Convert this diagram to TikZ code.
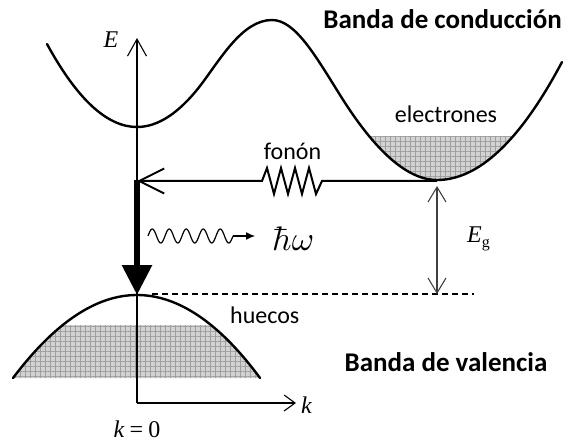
\documentclass[tikz,border=0pt]{standalone}
\usepackage{fontspec}
\newfontfamily\carl{Carlito}
\newfontfamily\tms{Liberation Serif}
\usetikzlibrary{arrows.meta,patterns.meta}
\tikzset{
  x=1pt,y=-1pt,
  band/.style={line width=2.4pt,line cap=round},
  axis/.style={line width=1.1pt},
  lbl/.style={font=\carl\fontsize{24}{24}\selectfont,inner sep=0pt},
  blbl/.style={font=\carl\bfseries\fontsize{27}{27}\selectfont,inner sep=0pt},
  mth/.style={font=\tms\fontsize{24}{24}\selectfont,inner sep=0pt},
  shade/.style={fill=gray!35},
  grid1/.style={pattern={Lines[angle=90,distance=5pt,line width=0.6pt]},pattern color=gray!75},
  grid2/.style={pattern={Lines[angle=0,distance=5pt,line width=0.6pt]},pattern color=gray!75},
}
\newcommand{\scmath}[2]{\scalebox{#1}{$#2$}}
\begin{document}
\begin{tikzpicture}
\useasboundingbox (0,0) rectangle (568,441);
% coordinates
\coordinate (cmin) at (137,127);
\coordinate (vmax) at (137,295);
\coordinate (rmin) at (437,181);
\coordinate (ph) at (137,181);
\coordinate (Eorig) at (137,403);
\coordinate (Etop) at (137,38);
\coordinate (kend) at (296,403);
% electron shading
\begin{scope}
\clip (300,137) rectangle (570,200);
\foreach \st in {shade,grid1,grid2}{
\path[\st] (340,95) .. controls (365,135) and (400,180) .. (437,180) .. controls (478.7,180) and (520.3,140.7) .. (562,62) -- cycle;}
\end{scope}
% hole shading
\begin{scope}
\clip (0,325) rectangle (300,380);
\foreach \st in {shade,grid1,grid2}{
\path[\st] (13,378) .. controls (54.3,323.3) and (95.7,295) .. (137,295) .. controls (178.3,295) and (219.7,323.3) .. (260,378) -- cycle;}
\end{scope}
% conduction band
\draw[band] (47,44) .. controls (77,99) and (107,127) .. (137,127)
  .. controls (158,127) and (179,113) .. (200,86)
  .. controls (220,60) and (242,20) .. (272,20)
  .. controls (295,20) and (315,55) .. (340,95)
  .. controls (365,135) and (400,180) .. (437,180)
  .. controls (478.7,180) and (520.3,140.7) .. (562,62);
% valence band
\draw[band] (13,378) .. controls (54.3,323.3) and (95.7,295) .. (137,295) .. controls (178.3,295) and (219.7,323.3) .. (260,378);
% axes
\draw[axis,-{Straight Barb[length=17pt,width=19pt,line width=1.1pt]}] (Eorig) -- (Etop);
\draw[axis,-{Straight Barb[length=11pt,width=16pt,line width=1.1pt]}] (Eorig) -- (kend);
\node[mth,anchor=base] (E) at (111,48) {\textit{E}};
\node[mth,anchor=base west] (k) at (301,413) {\textit{k}};
\node[mth,anchor=base] (k0) at (137,437) {\textit{k}\hspace{5pt}=\hspace{5pt}0};
% dashed line
\coordinate (d1) at (152,294);
\coordinate (d2) at (474,294);
\draw[line width=1.1pt,dash pattern=on 6pt off 4pt] (d1) -- (d2);
% phonon arrow
\draw[line width=2pt,-{Straight Barb[length=25pt,width=25pt,line width=2pt]}]
  (rmin) -- (322,181) -- (316,194) -- (309,168) -- (302,194) -- (295,168) -- (288,194) -- (281,168) -- (274,194) -- (267,168) -- (262,181) -- (ph);
\node[lbl,anchor=base] (fonon) at (292.5,160) {fonón};
% thick downward arrow
\draw[line width=6pt,-{Triangle[length=30pt,width=29pt]}] (137,180) -- (vmax);
% photon
\coordinate (pw) at (233,236);
\coordinate (ptip) at (255,236);
\draw[line width=1.2pt] plot[domain=0:85,samples=120,smooth] ({148+\x},{236-7*sin(\x/17*360)});
\draw[line width=1.2pt,-{Latex[length=9pt,width=8pt]}] (pw) -- (ptip);
\node[inner sep=0pt,anchor=base west] (hw) at (272,250) {\scmath{3.4}{\hbar\omega}};
% Eg arrow
\draw[line width=1.1pt,black!75,{Straight Barb[length=15pt,width=18pt,line width=1.1pt]}-{Straight Barb[length=15pt,width=18pt,line width=1.1pt]}] (437,186) -- (437,294);
\node[mth,anchor=base west] (Eg) at (467,243) {\textit{E}\raisebox{-5pt}{\fontsize{16}{16}\selectfont g}};
% labels
\node[lbl,anchor=base] (el) at (446,123) {electrones};
\node[lbl,anchor=base west] (hu) at (230,323) {huecos};
\node[blbl,anchor=base east] (bc) at (562,28.5) {Banda de conducción};
\node[blbl,anchor=base] (bv) at (446,371) {Banda de valencia};
\end{tikzpicture}
\end{document}
